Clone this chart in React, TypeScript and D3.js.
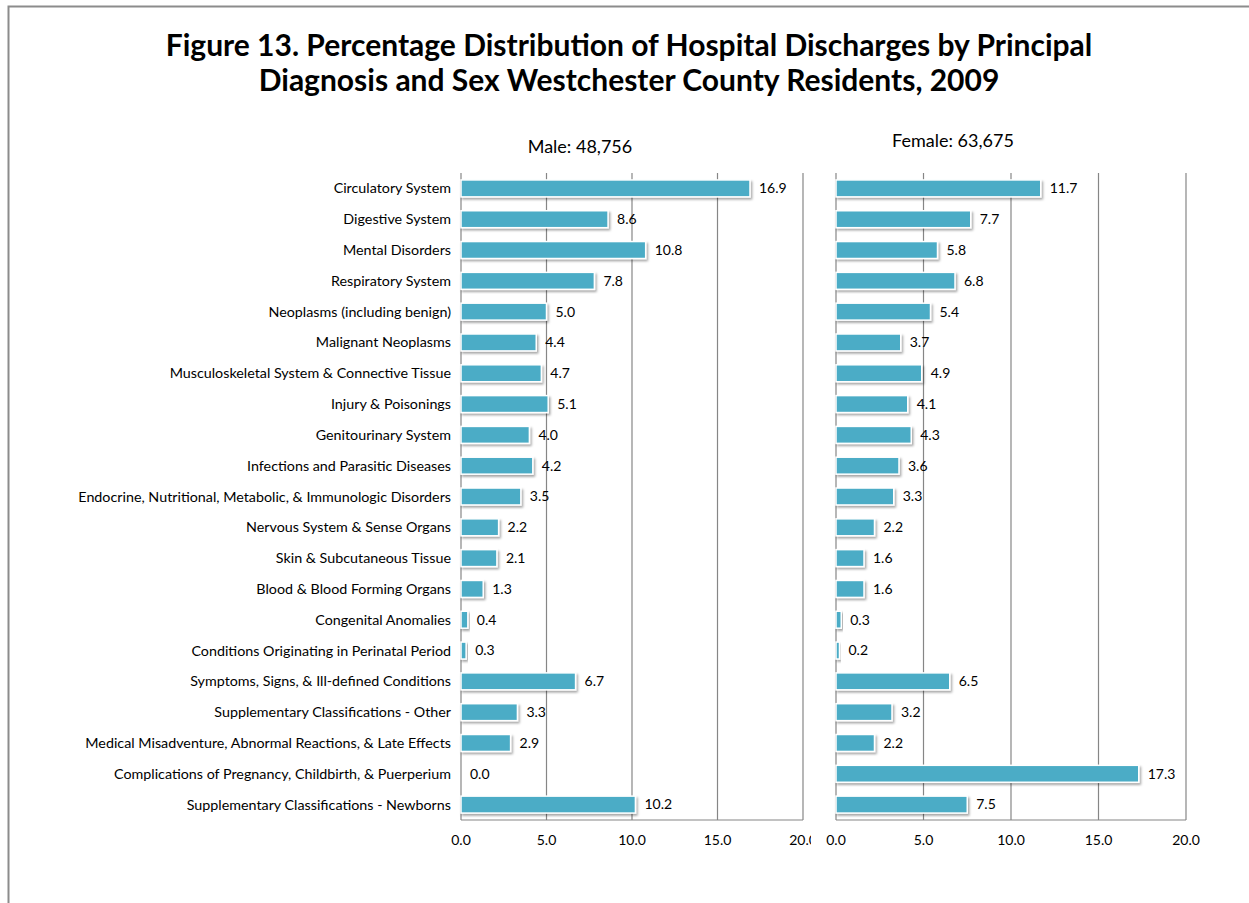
import * as d3 from "d3";

const categories = [
  "Circulatory System",
  "Digestive System",
  "Mental Disorders",
  "Respiratory System",
  "Neoplasms (including benign)",
  "Malignant Neoplasms",
  "Musculoskeletal System & Connective Tissue",
  "Injury & Poisonings",
  "Genitourinary System",
  "Infections and Parasitic Diseases",
  "Endocrine, Nutritional, Metabolic, & Immunologic Disorders",
  "Nervous System & Sense Organs",
  "Skin & Subcutaneous Tissue",
  "Blood & Blood Forming Organs",
  "Congenital Anomalies",
  "Conditions Originating in Perinatal Period",
  "Symptoms, Signs, & Ill-defined Conditions",
  "Supplementary Classifications - Other",
  "Medical Misadventure, Abnormal Reactions, & Late Effects",
  "Complications of Pregnancy, Childbirth, & Puerperium",
  "Supplementary Classifications - Newborns",
];

const maleValues = [16.9, 8.6, 10.8, 7.8, 5.0, 4.4, 4.7, 5.1, 4.0, 4.2, 3.5, 2.2, 2.1, 1.3, 0.4, 0.3, 6.7, 3.3, 2.9, 0.0, 10.2];
const femaleValues = [11.7, 7.7, 5.8, 6.8, 5.4, 3.7, 4.9, 4.1, 4.3, 3.6, 3.3, 2.2, 1.6, 1.6, 0.3, 0.2, 6.5, 3.2, 2.2, 17.3, 7.5];

const xTicks = [0, 5, 10, 15, 20];
const titleLines = [
  "Figure 13. Percentage Distribution of Hospital Discharges by Principal",
  "Diagnosis and Sex Westchester County Residents, 2009",
];

const FONT = "Lato, 'Open Sans', sans-serif";
const BAR = "#4BACC6";
const GRID = "#868686";

const y = d3
  .scaleBand<string>()
  .domain(categories)
  .range([173, 820])
  .paddingInner(0.45)
  .paddingOuter(0.225);

function Panel({
  id,
  values,
  x,
  title,
  titleX,
  titleY,
  clipRight,
}: {
  id: string;
  values: number[];
  x: d3.ScaleLinear<number, number>;
  title: string;
  titleX: number;
  titleY: number;
  clipRight: number;
}) {
  const [x0, x1] = x.range();
  const [top, bottom] = y.range();
  return (
    <g>
      <clipPath id={`clip-${id}`}>
        <rect x={0} y={0} width={clipRight} height={903} />
      </clipPath>
      <text x={titleX} y={titleY} textAnchor="middle" fontSize={18} fontFamily={FONT} fill="#000">
        {title}
      </text>
      {xTicks.map((t) => (
        <line key={t} x1={x(t)} x2={x(t)} y1={top} y2={bottom} stroke={GRID} strokeWidth={1.2} />
      ))}
      <line x1={x0} x2={x1} y1={bottom} y2={bottom} stroke={GRID} strokeWidth={1.2} />
      {values.map((v, i) => {
        const c = categories[i];
        const by = y(c)!;
        return (
          <g key={c}>
            {v > 0 && (
              <rect
                x={x0}
                y={by}
                width={x(v) - x0}
                height={y.bandwidth()}
                fill={BAR}
                stroke="#fff"
                strokeWidth={1.5}
                filter="url(#shadow)"
              />
            )}
            <text
              x={x(v) + 9}
              y={by + y.bandwidth() / 2}
              dy="0.35em"
              fontSize={14}
              fontFamily={FONT}
              fill="#000"
            >
              {v.toFixed(1)}
            </text>
          </g>
        );
      })}
      <g clipPath={`url(#clip-${id})`}>
        {xTicks.map((t) => (
          <text key={t} x={x(t)} y={845} textAnchor="middle" fontSize={14} fontFamily={FONT} fill="#000">
            {t.toFixed(1)}
          </text>
        ))}
      </g>
    </g>
  );
}

export default function App() {
  const xMale = d3.scaleLinear().domain([0, 20]).range([461, 803]);
  const xFemale = d3.scaleLinear().domain([0, 20]).range([836, 1186]);

  return (
    <svg
      width={1249}
      height={903}
      style={{ position: "absolute", left: 0, top: 0, background: "#fff" }}
    >
      <defs>
        <filter id="shadow" x="-10%" y="-30%" width="130%" height="190%">
          <feDropShadow dx={1.5} dy={2} stdDeviation={1.2} floodColor="#000" floodOpacity={0.35} />
        </filter>
      </defs>
      <rect width={1249} height={903} fill="#fff" />
      <path d="M8.5,903 V6.5 H1249" fill="none" stroke="#8c8c8c" strokeWidth={2} />

      {titleLines.map((t, i) => (
        <text
          key={i}
          x={629}
          y={56 + i * 35}
          textAnchor="middle"
          fontSize={30}
          fontWeight="bold"
          fontFamily={FONT}
          fill="#000"
        >
          {t}
        </text>
      ))}

      {categories.map((c) => (
        <text
          key={c}
          x={451}
          y={y(c)! + y.bandwidth() / 2}
          dy="0.35em"
          textAnchor="end"
          fontSize={14.3}
          fontFamily={FONT}
          fill="#000"
        >
          {c}
        </text>
      ))}

      <Panel id="male" values={maleValues} x={xMale} title="Male: 48,756" titleX={580} titleY={153} clipRight={811} />
      <Panel id="female" values={femaleValues} x={xFemale} title="Female: 63,675" titleX={953} titleY={147} clipRight={1249} />
    </svg>
  );
}
